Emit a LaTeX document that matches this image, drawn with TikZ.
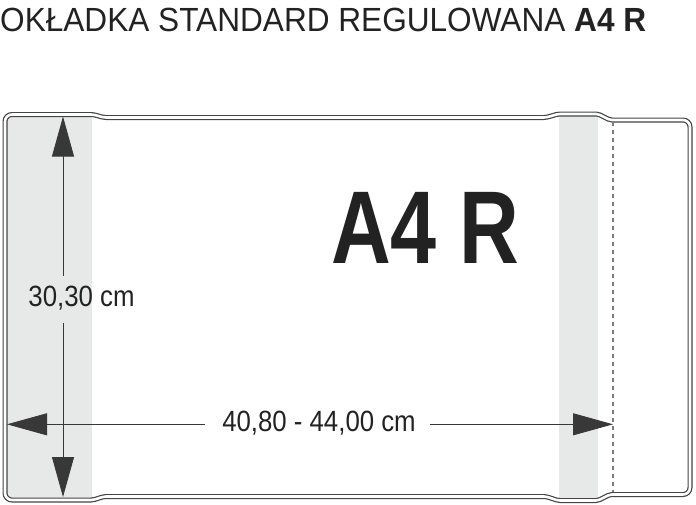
\documentclass[tikz,border=0pt]{standalone}
\usepackage{fontspec}
\usetikzlibrary{arrows.meta}
\newfontfamily\titlefont[FakeStretch=0.943]{Liberation Sans}
\newfontfamily\dimfont[FakeStretch=0.88]{Liberation Sans}
\newfontfamily\bigfont[FakeStretch=0.8]{Liberation Sans}
\definecolor{ink}{HTML}{222222}
\definecolor{band}{HTML}{E7E8E8}
\definecolor{edge}{HTML}{444444}
\tikzset{
  outline/.style={draw=edge, line width=1.2pt, double=white, double distance=2.6pt},
  bandfill/.style={fill=band, draw=none},
  fold/.style={draw=edge!70, line width=1.3pt, dash pattern=on 4pt off 4pt},
  dimline/.style={draw=ink!90, line width=0.9pt, -{Triangle[length=40pt,width=22pt]}},
  dimlabel/.style={font=\dimfont\fontsize{29.3}{30}\selectfont, text=ink, inner sep=0pt},
}
\begin{document}
\begin{tikzpicture}[x=1pt, y=-1pt]
\useasboundingbox (0,0) rectangle (696,504);
% title
\node[anchor=base west, inner sep=0pt, text=ink, font=\titlefont\fontsize{33.5}{34}\selectfont] (title) at (0,31) {OKŁADKA STANDARD REGULOWANA \textbf{A4 R}};
% bands
\path[bandfill] (7,117) rectangle (92,498);
\path[bandfill] (559,116) rectangle (598,498.5);
% outline
\draw[outline, rounded corners=2pt] (50,114.5) -- (93,114.5) -- (104,117.5) -- (546,117.5) -- (558,114) -- (598,114) -- (610,120) [rounded corners=7pt] -- (690,120) -- (690,494.5) [rounded corners=2pt] -- (610,494.5) -- (598,500.5) -- (558,500.5) -- (546,496.5) -- (104,496.5) -- (93,500) [rounded corners=7pt] -- (5,500) -- (5,114.5) -- cycle;
% fold line
\coordinate (ft) at (613,122);
\coordinate (fb) at (613,492);
\draw[fold] (ft) -- (fb);
% big label
\node[anchor=base west, inner sep=0pt, text=ink, font=\bigfont\bfseries\fontsize{103.4}{104}\selectfont] (big) at (331,263.3) {A4 R};
% vertical dimension
\coordinate (vt) at (63,116.5);
\coordinate (vb) at (63,497);
\coordinate (vgt) at (63,276);
\coordinate (vgb) at (63,323);
\node[dimlabel] (vlab) at (81.5,298.5) {30,30 cm};
\draw[dimline] (vgt) -- (vt);
\draw[dimline] (vgb) -- (vb);
% horizontal dimension
\coordinate (hl) at (7,424.3);
\coordinate (hr) at (613,424.3);
\coordinate (hgl) at (205,424.3);
\coordinate (hgr) at (430,424.3);
\node[dimlabel] (hlab) at (319,423.5) {40,80 - 44,00 cm};
\draw[dimline] (hgl) -- (hl);
\draw[dimline] (hgr) -- (hr);
\end{tikzpicture}
\end{document}
